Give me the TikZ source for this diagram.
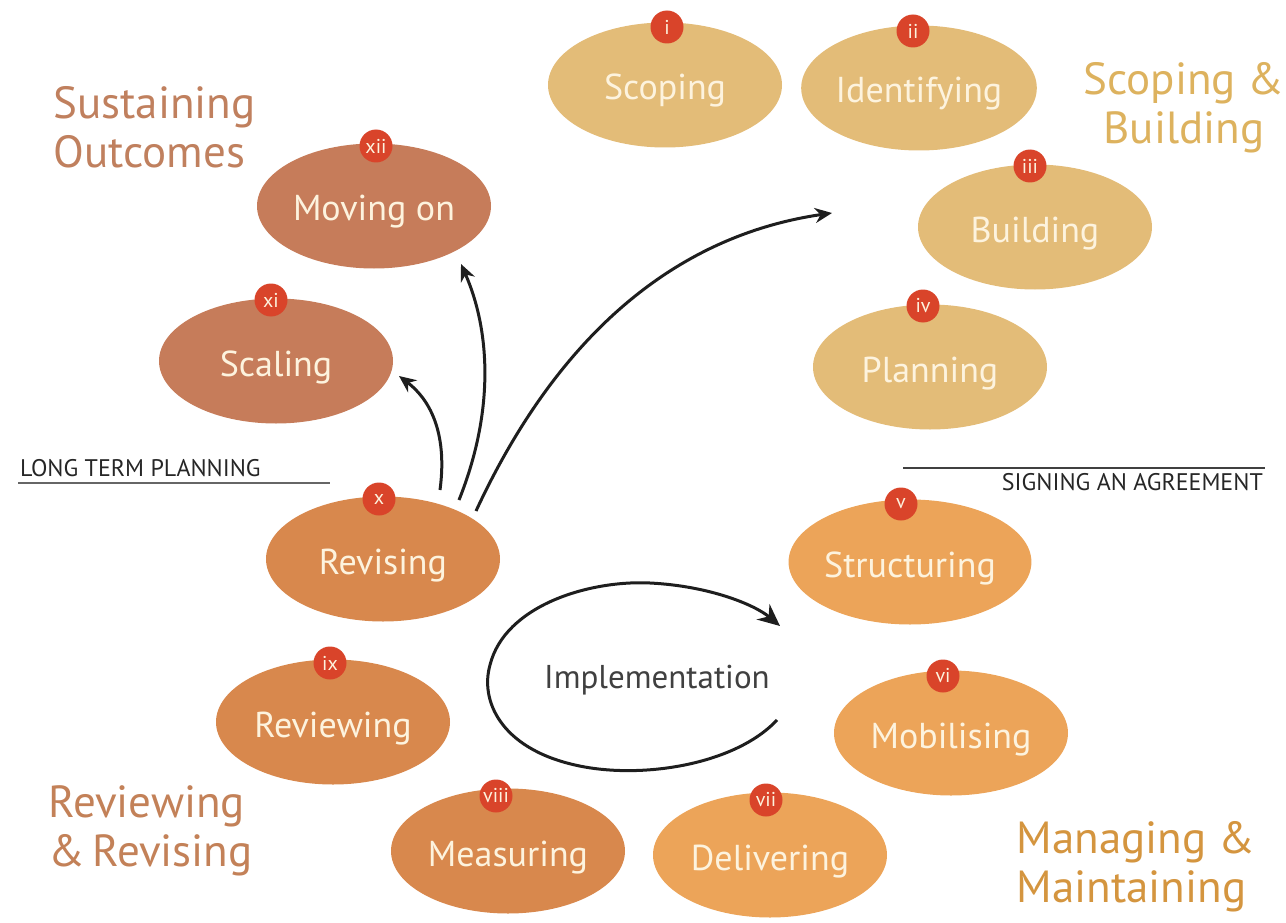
\documentclass[tikz,border=0pt]{standalone}
\usepackage{fontspec}
\setmainfont{PT Sans}
\usetikzlibrary{shapes.geometric,arrows.meta,calc}
\definecolor{tanfill}{HTML}{E3BC78}
\definecolor{brownfill}{HTML}{C67C5A}
\definecolor{revfill}{HTML}{D8884D}
\definecolor{manfill}{HTML}{ECA459}
\definecolor{badgered}{HTML}{D9442A}
\definecolor{creamtext}{HTML}{FDF3DE}
\definecolor{sustc}{HTML}{C0805E}
\definecolor{scopc}{HTML}{DDB25E}
\definecolor{revc}{HTML}{C38158}
\definecolor{manc}{HTML}{D4953F}
\definecolor{ink}{HTML}{1E1E1E}
\tikzset{
  ell/.style={ellipse, minimum width=234pt, minimum height=125pt, inner sep=0pt,
    text=creamtext, font=\fontsize{36}{40}\selectfont, text depth=0pt, text height=30pt},
  badge/.style={circle, fill=badgered, minimum size=33pt, inner sep=0pt,
    text=creamtext, font=\fontsize{20}{20}\selectfont},
  phase/.style={align=left, anchor=west, font=\fontsize{45}{49}\selectfont},
  rule/.style={line width=1.6pt, color=black!75},
  small/.style={font=\fontsize{24}{24}\selectfont, text=black!85, inner sep=0pt},
  arr/.style={line width=3pt, color=ink, -{Stealth[length=17pt,width=15pt]}},
}
\begin{document}
\begin{tikzpicture}[x=1pt,y=-1pt]
\useasboundingbox (0,0) rectangle (1286,923);
% ellipses
\node[ell, fill=tanfill] (scoping) at (665,85) {Scoping};
\node[ell, fill=tanfill] (identifying) at (919,88) {Identifying};
\node[ell, fill=tanfill] (building) at (1035,227) {Building};
\node[ell, fill=tanfill] (planning) at (930,367) {Planning};
\node[ell, fill=manfill] (structuring) at (910,562) {Structuring};
\node[ell, fill=manfill] (mobilising) at (951,733) {Mobilising};
\node[ell, fill=manfill] (delivering) at (770,855) {Delivering};
\node[ell, fill=revfill] (measuring) at (508,851) {Measuring};
\node[ell, fill=revfill] (reviewing) at (333,722) {Reviewing};
\node[ell, fill=revfill] (revising) at (383,559) {Revising};
\node[ell, fill=brownfill] (scaling) at (276,361) {Scaling};
\node[ell, fill=brownfill] (movingon) at (374,206) {Moving on};
% badges
\node[badge] (b1) at (667,27) {i};
\node[badge] (b2) at (913,31) {ii};
\node[badge] (b3) at (1030,166) {iii};
\node[badge] (b4) at (923,306) {iv};
\node[badge] (b5) at (901,504) {v};
\node[badge] (b6) at (943,676) {vi};
\node[badge] (b7) at (766,800) {vii};
\node[badge] (b8) at (496,796) {viii};
\node[badge] (b9) at (330,663) {ix};
\node[badge] (b10) at (379,499) {x};
\node[badge] (b11) at (271,300) {xi};
\node[badge] (b12) at (376,146) {xii};
% phase titles
\node[phase, text=sustc] (sust) at (50,127) {Sustaining\\Outcomes};
\node[phase, text=scopc, align=center, anchor=center] (scopb) at (1184,108) {Scoping \&\\Building};
\node[phase, text=revc] (revr) at (45,831) {Reviewing\\\&\,Revising};
\node[phase, text=manc] (mana) at (1013,867) {Managing \&\\Maintaining};
% milestone lines
\coordinate (l1a) at (18,483);
\coordinate (l1b) at (330,483);
\draw[rule, line width=2.4pt, color=black!60] (l1a) -- (l1b);
\node[small, anchor=south west] (ltp) at (20,477) {LONG TERM PLANNING};
\coordinate (l2a) at (903,468);
\coordinate (l2b) at (1265,468);
\draw[rule] (l2a) -- (l2b);
\node[small, anchor=north east] (saa) at (1263,473) {SIGNING AN AGREEMENT};
% arrows from revising
\coordinate (s1) at (440,490);
\coordinate (e1) at (399,376);
\coordinate (s2) at (459,500);
\coordinate (e2) at (461,264);
\coordinate (s3) at (476,511);
\coordinate (e3) at (832,213);
\draw[arr] (s1) .. controls (448,430) and (428,398) .. (e1);
\draw[arr] (s2) .. controls (495,410) and (490,330) .. (e2);
\draw[arr] (s3) .. controls (560,330) and (680,235) .. (e3);
% implementation loop
\coordinate (is) at (777,720);
\coordinate (ie) at (780,626);
\draw[arr, -{Stealth[length=22pt,width=20pt]}] (is) .. controls (735,765) and (640,780) .. (575,765)
  .. controls (500,748) and (480,700) .. (490,665)
  .. controls (505,605) and (590,580) .. (650,583)
  .. controls (710,586) and (755,605) .. (ie);
\node[font=\fontsize{33}{36}\selectfont, text=black!75] (impl) at (657,680) {Implementation};
\end{tikzpicture}
\end{document}
